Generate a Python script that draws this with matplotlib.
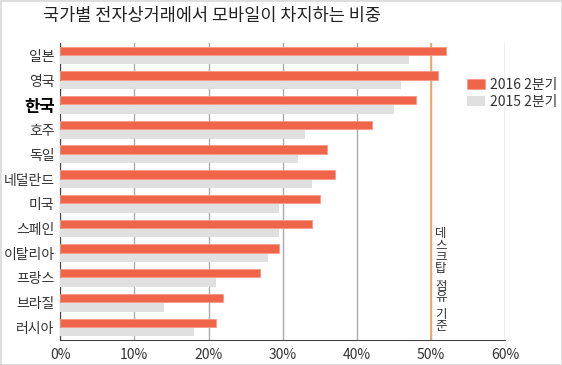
import numpy as np
import matplotlib
matplotlib.use("Agg")
import matplotlib.pyplot as plt
from matplotlib.patches import Rectangle

plt.rcParams["font.family"] = ["Noto Sans CJK KR", "DejaVu Sans"]

# data (share of e-commerce on mobile, %)
countries = ["일본", "영국", "한국", "호주", "독일", "네덜란드",
             "미국", "스페인", "이탈리아", "프랑스", "브라질", "러시아"]
q2_2016 = [52, 51, 48, 42, 36, 37, 35, 34, 29.5, 27, 22, 21]
q2_2015 = [47, 46, 45, 33, 32, 34, 29.5, 29.5, 28, 21, 14, 18]
xticks = [0, 10, 20, 30, 40, 50, 60]
desktop_line = 50
desktop_note = "데스크탑 점유 기준"

ORANGE = "#F0654A"
GRAY = "#E0E0E0"

fig = plt.figure(figsize=(5.62, 3.65), dpi=100)
ax = fig.add_axes([0.107, 0.069, 0.792, 0.813])

y = np.arange(len(countries))
h = 0.34
ax.barh(y - 0.19, q2_2016, height=h, color=ORANGE, edgecolor="#F59A85",
        linewidth=0.6, label="2016 2분기", zorder=3)
ax.barh(y + 0.19, q2_2015, height=h, color=GRAY, linewidth=0,
        label="2015 2분기", zorder=3)

ax.set_xlim(0, 60)
ax.set_ylim(len(countries) - 0.5, -0.5)
ax.set_xticks(xticks)
ax.set_xticklabels([f"{t}%" for t in xticks], fontsize=10, color="#333333")
ax.set_yticks(y)
ax.set_yticklabels(countries, fontsize=10, color="#333333")
for lbl in ax.get_yticklabels():
    if lbl.get_text() == "한국":
        lbl.set_fontweight("bold")
        lbl.set_fontsize(12)
        lbl.set_color("black")
ax.tick_params(axis="y", length=0, pad=4)
ax.tick_params(axis="x", length=0, pad=6)

ax.grid(axis="x", color="#AAAAAA", linewidth=1, zorder=1)
ax.set_axisbelow(True)
for s in ["top", "right"]:
    ax.spines[s].set_visible(False)
ax.spines["left"].set_color("#444444")
ax.spines["bottom"].set_color("#444444")

ax.axvline(desktop_line, color="#F5A65B", linewidth=1.2, zorder=2)
# stacked vertical note, one character at a time (spaces = short gap)
off = 0
for ch in desktop_note:
    if ch == " ":
        off += 4
        continue
    ax.annotate(ch, xy=(desktop_line, 0), xycoords=("data", "axes fraction"),
                xytext=(7, 81 - off), textcoords="offset points",
                fontsize=9, color="#333333", ha="center", va="top")
    off += 8.4

ax.legend(loc="upper left", bbox_to_anchor=(0.885, 0.925), frameon=False,
          fontsize=10, handlelength=1.3, handleheight=0.7,
          handletextpad=0.4, labelspacing=0.2, labelcolor="#333333")

fig.text(0.077, 0.955, "국가별 전자상거래에서 모바일이 차지하는 비중",
         fontsize=12.6, color="#222222", va="center")

fig.patches.append(Rectangle((0, 0), 1, 1, transform=fig.transFigure,
                             fill=False, edgecolor="#DDDDDD", linewidth=2))

fig.savefig("out.png", dpi=100)
